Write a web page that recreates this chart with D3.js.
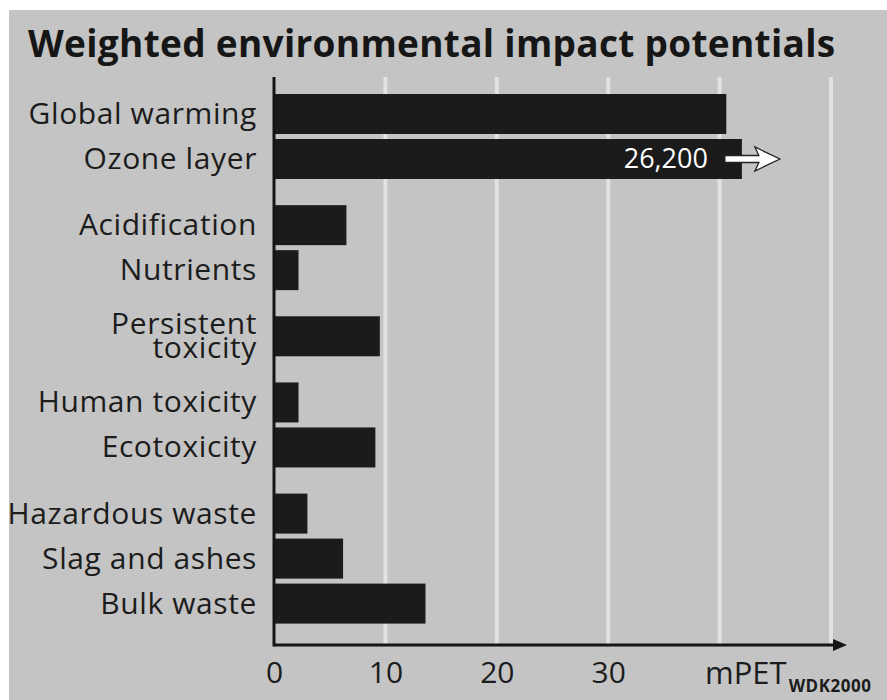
<!DOCTYPE html>
<html>
<head>
<meta charset="utf-8">
<script src="https://cdn.jsdelivr.net/npm/d3@7"></script>
<style>
  body { margin: 0; background: #fff; }
  text { font-family: "Open Sans", sans-serif; fill: #1c1c1c; }
</style>
</head>
<body>
<svg id="chart" width="887" height="700"></svg>
<script>
const categories = [
  "Global warming", "Ozone layer", "Acidification", "Nutrients",
  "Persistent\ntoxicity", "Human toxicity", "Ecotoxicity",
  "Hazardous waste", "Slag and ashes", "Bulk waste"
];
const groups = [0, 0, 1, 1, 2, 3, 3, 4, 4, 4];
const values = [40.6, 26200, 6.5, 2.2, 9.5, 2.2, 9.1, 3.0, 6.2, 13.6];
const tickValues = [0, 10, 20, 30];
const gridValues = [10, 20, 30, 40, 50];
const unitLabel = "mPET", unitSub = "WDK2000";
const titleText = "Weighted environmental impact potentials";
const cutAt = 42; // values past this are drawn cut, with their number and an arrow

const $svg = d3.select("#chart");
const W = 887, H = 700;
const margin = { left: 274, top: 94, axisY: 645 };
const pitch = 45, barH = 40, groupGap = 0.47;

const x = d3.scaleLinear().domain([0, 50]).range([margin.left, 831]);
const slot = (i) => i + groups[i] * groupGap;
const lastSlot = slot(categories.length - 1);
const y = d3.scaleLinear()
  .domain([0, lastSlot])
  .range([margin.top, margin.top + lastSlot * pitch]);

// halftone-ish paper
$svg.append("rect")
  .attr("x", 9).attr("y", 10)
  .attr("width", W - 9).attr("height", H - 10)
  .attr("fill", "#c4c4c4");

// grid
$svg.append("g").selectAll("line")
  .data(gridValues)
  .join("line")
  .attr("x1", (d) => x(d)).attr("x2", (d) => x(d))
  .attr("y1", 77).attr("y2", margin.axisY)
  .attr("stroke", "#e2e2e2")
  .attr("stroke-width", 4);

// title
$svg.append("text")
  .attr("x", 28).attr("y", 57)
  .attr("font-size", 37)
  .attr("font-weight", 700)
  .attr("letter-spacing", 0.3)
  .style("fill", "#161616")
  .text(titleText);

// bars
const rows = categories.map((c, i) => ({ label: c, value: values[i], i }));
$svg.append("g").selectAll("rect")
  .data(rows)
  .join("rect")
  .attr("x", x(0))
  .attr("y", (d) => y(slot(d.i)))
  .attr("width", (d) => x(Math.min(d.value, cutAt)) - x(0))
  .attr("height", barH)
  .attr("fill", "#1b1b1b");

// category labels
const labels = $svg.append("g").selectAll("text")
  .data(rows)
  .join("text")
  .attr("text-anchor", "end")
  .attr("font-size", 30)
  .attr("letter-spacing", 0.6)
  .attr("x", 257)
  .attr("y", (d) => y(slot(d.i)) + barH / 2);
labels.each(function (d) {
  const lines = d.label.split("\n");
  const t = d3.select(this);
  lines.forEach((ln, k) => {
    t.append("tspan")
      .attr("x", 257)
      .attr("dy", k === 0 ? (10 - (lines.length - 1) * 12) : 24)
      .text(ln);
  });
});

// cut bar: value + arrow
const cut = rows.filter((d) => d.value > cutAt);
cut.forEach((d) => {
  const cy = y(slot(d.i)) + barH / 2;
  $svg.append("text")
    .attr("x", x(cutAt) - 34)
    .attr("y", cy + 9)
    .attr("text-anchor", "end")
    .attr("font-size", 27)
    .style("fill", "#fff")
    .text(d3.format(",")(d.value));
  const ax = x(cutAt) - 17;
  const arrow = d3.path();
  arrow.moveTo(ax, cy - 3.5);
  arrow.lineTo(ax + 34, cy - 3.5);
  arrow.lineTo(ax + 30, cy - 12);
  arrow.lineTo(ax + 55, cy);
  arrow.lineTo(ax + 30, cy + 12);
  arrow.lineTo(ax + 34, cy + 3.5);
  arrow.lineTo(ax, cy + 3.5);
  arrow.closePath();
  $svg.append("path")
    .attr("d", arrow.toString())
    .attr("fill", "#fff")
    .attr("stroke", "#222")
    .attr("stroke-width", 1.3);
});

// axes
$svg.append("line")
  .attr("x1", x(0)).attr("x2", x(0))
  .attr("y1", 77).attr("y2", margin.axisY + 1.5)
  .attr("stroke", "#151515").attr("stroke-width", 3);
$svg.append("line")
  .attr("x1", x(0)).attr("x2", 836)
  .attr("y1", margin.axisY).attr("y2", margin.axisY)
  .attr("stroke", "#151515").attr("stroke-width", 3);
$svg.append("path")
  .attr("d", `M${833},${margin.axisY - 6}L${847},${margin.axisY}L${833},${margin.axisY + 6}Z`)
  .attr("fill", "#151515");

const xAxis = $svg.append("g")
  .attr("transform", `translate(0,${margin.axisY})`)
  .call(d3.axisBottom(x).tickValues(tickValues).tickSize(0).tickPadding(17));
xAxis.select(".domain").remove();
xAxis.selectAll("text")
  .attr("font-size", 30)
  .style("font-family", "'Open Sans', sans-serif")
  .style("fill", "#1c1c1c");

const unit = $svg.append("text")
  .attr("x", 705).attr("y", 684)
  .attr("font-size", 31);
unit.append("tspan").text(unitLabel);
unit.append("tspan")
  .attr("font-size", 17)
  .attr("font-weight", 700)
  .attr("letter-spacing", 0.5)
  .attr("dy", 8)
  .attr("dx", 2)
  .text(unitSub);
</script>
</body>
</html>
